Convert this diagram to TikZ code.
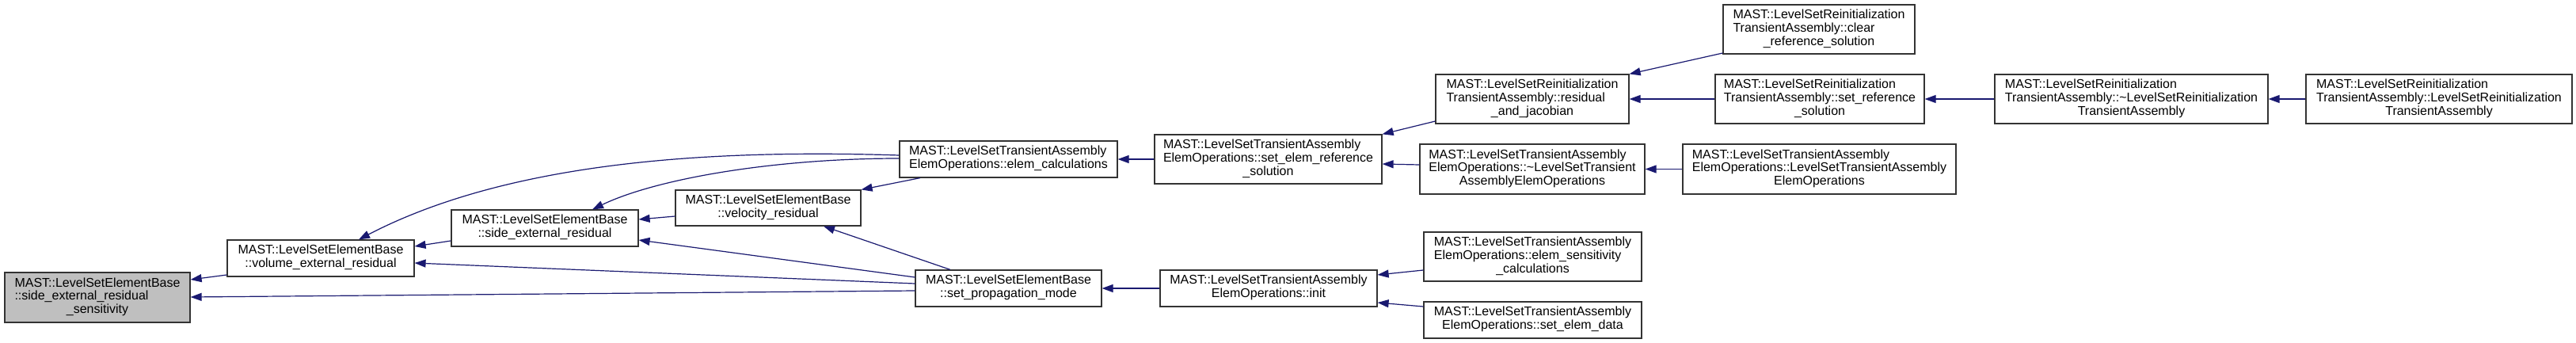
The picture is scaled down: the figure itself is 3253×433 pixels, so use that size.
\documentclass[tikz,border=0pt]{standalone}
\usepackage{fontspec}
\setmainfont{Liberation Sans}
\usetikzlibrary{arrows.meta}
\definecolor{edgeblue}{HTML}{191970}
\definecolor{boxgrey}{HTML}{BFBFBF}
\definecolor{boxline}{HTML}{333333}
\newcommand\tl[1]{\begin{tabular}{@{}l@{}}#1\end{tabular}}
\newcommand\cl[1]{\multicolumn{1}{@{}c@{}}{#1}}
\newcommand\mknode[7]{\node[fnbox,#1,minimum width={(#5-#3)*0.5pt},minimum height={(#6-#4)*0.5pt}] (#2) at ({(#3+#5)/2},{(#4+#6)/2}) {#7};}
\tikzset{
  fnbox/.style={draw=boxline,line width=0.6pt,fill=white,inner sep=0pt,font=\fontsize{8}{8.4}\selectfont},
  focus/.style={fill=boxgrey},
  edge/.style={draw=edgeblue,line width=0.6pt,-{Triangle[length=7pt,width=5pt]}},
}
\begin{document}
\begin{tikzpicture}[x=0.5pt,y=-0.5pt]
\useasboundingbox (0,0) rectangle (3253,433);
\fill[white] (0,0) rectangle (3253,433);
\mknode{focus}{sers}{6}{344}{240}{407}{\tl{MAST::LevelSetElementBase\\::side\_external\_residual\\\cl{\_sensitivity}}}
\mknode{}{vol}{287}{303}{523}{349}{\tl{MAST::LevelSetElementBase\\\cl{::volume\_external\_residual}}}
\mknode{}{side}{570}{265}{806}{311}{\tl{MAST::LevelSetElementBase\\\cl{::side\_external\_residual}}}
\mknode{}{vel}{853}{240}{1087}{285}{\tl{MAST::LevelSetElementBase\\\cl{::velocity\_residual}}}
\mknode{}{ecalc}{1136}{178}{1411}{224}{\tl{MAST::LevelSetTransientAssembly\\\cl{ElemOperations::elem\_calculations}}}
\mknode{}{prop}{1156}{341}{1391}{387}{\tl{MAST::LevelSetElementBase\\\cl{::set\_propagation\_mode}}}
\mknode{}{serf}{1458}{170}{1745}{232}{\tl{MAST::LevelSetTransientAssembly\\ElemOperations::set\_elem\_reference\\\cl{\_solution}}}
\mknode{}{init}{1465}{341}{1739}{387}{\tl{MAST::LevelSetTransientAssembly\\\cl{ElemOperations::init}}}
\mknode{}{dtorE}{1793}{182}{2077}{245}{\tl{MAST::LevelSetTransientAssembly\\ElemOperations::\textasciitilde LevelSetTransient\\\cl{AssemblyElemOperations}}}
\mknode{}{esens}{1798}{293}{2073}{355}{\tl{MAST::LevelSetTransientAssembly\\ElemOperations::elem\_sensitivity\\\cl{\_calculations}}}
\mknode{}{sdata}{1798}{381}{2073}{427}{\tl{MAST::LevelSetTransientAssembly\\\cl{ElemOperations::set\_elem\_data}}}
\mknode{}{resj}{1813}{94}{2057}{156}{\tl{MAST::LevelSetReinitialization\\TransientAssembly::residual\\\cl{\_and\_jacobian}}}
\mknode{}{clear}{2176}{6}{2418}{68}{\tl{MAST::LevelSetReinitialization\\TransientAssembly::clear\\\cl{\_reference\_solution}}}
\mknode{}{sref}{2166}{94}{2430}{156}{\tl{MAST::LevelSetReinitialization\\TransientAssembly::set\_reference\\\cl{\_solution}}}
\mknode{}{dtorR}{2519}{94}{2864}{156}{\tl{MAST::LevelSetReinitialization\\TransientAssembly::\textasciitilde LevelSetReinitialization\\\cl{TransientAssembly}}}
\mknode{}{ctorR}{2912}{94}{3248}{156}{\tl{MAST::LevelSetReinitialization\\TransientAssembly::LevelSetReinitialization\\\cl{TransientAssembly}}}
\mknode{}{ctorE}{2125}{182}{2470}{245}{\tl{MAST::LevelSetTransientAssembly\\ElemOperations::LevelSetTransientAssembly\\\cl{ElemOperations}}}
% edges
\draw[edge] (vol.west |- 0,347) -- (sers.east |- 0,353);
\draw[edge] (prop.west |- 0,367) -- (sers.east |- 0,375);
\draw[edge] (side.west |- 0,304) -- (vol.east |- 0,311);
\draw[edge] (prop.west |- 0,358) -- (vol.east |- 0,332);
\draw[edge] (ecalc.west |- 0,196) .. controls (915,189) and (650,200) .. (vol.north -| 453,0);
\draw[edge] (ecalc.west |- 0,200) .. controls (980,200) and (830,225) .. (side.north -| 748,0);
\draw[edge] (vel.west |- 0,273) -- (side.east |- 0,277);
\draw[edge] (prop.west |- 0,350) -- (side.east |- 0,303);
\draw[edge] (ecalc.south -| 1162,0) -- (vel.north east);
\draw[edge] (prop.north -| 1200,0) -- (vel.south -| 1040,0);
\draw[edge] (serf.west |- 0,201) -- (ecalc.east |- 0,201);
\draw[edge] (init.west) -- (prop.east);
\draw[edge] (resj.west |- 0,153) -- (serf.north east);
\draw[edge] (dtorE.west |- 0,208) -- (serf.east |- 0,207);
\draw[edge] (clear.west |- 0,67) -- (resj.north east);
\draw[edge] (sref.west) -- (resj.east);
\draw[edge] (dtorR.west) -- (sref.east);
\draw[edge] (ctorR.west) -- (dtorR.east);
\draw[edge] (ctorE.west) -- (dtorE.east);
\draw[edge] (esens.west |- 0,341) -- (init.east |- 0,347);
\draw[edge] (sdata.west |- 0,387) -- (init.east |- 0,382);
\end{tikzpicture}
\end{document}
